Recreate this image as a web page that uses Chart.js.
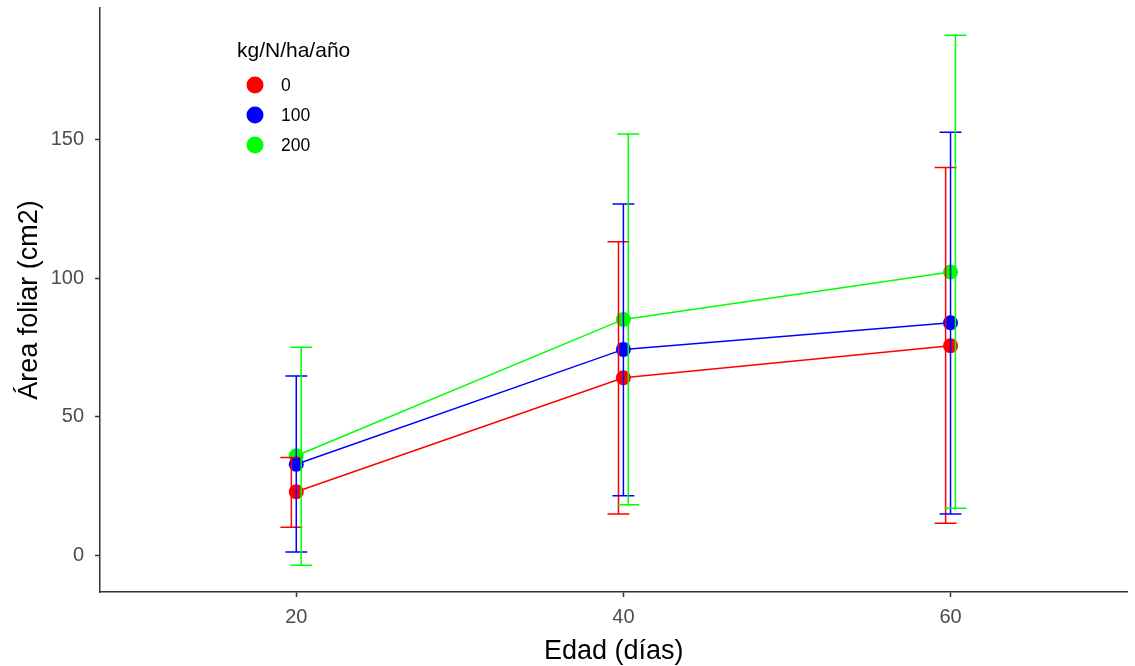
<!DOCTYPE html>
<html lang="es">
<head>
<meta charset="UTF-8">
<title>Área foliar</title>
<script src="https://cdn.jsdelivr.net/npm/chart.js"></script>
<style>
  html, body { margin: 0; padding: 0; background: #fff; }
  #wrap { width: 1135px; height: 666px; }
</style>
</head>
<body>
<div id="wrap"><canvas id="leafChart" width="1135" height="666"></canvas></div>
<script>
    // datos
    const ages = [20, 40, 60];
    const doses = ['0', '100', '200'];
    const colors = ['#ff0000', '#0000ff', '#00ff00'];
    const mean0 = [23.0, 64.1, 75.6];
    const mean100 = [32.9, 74.3, 83.9];
    const mean200 = [36.0, 85.1, 102.2];
    const low0 = [10.2, 15.0, 11.7];
    const high0 = [35.4, 113.1, 139.8];
    const low100 = [1.3, 21.6, 15.0];
    const high100 = [64.7, 126.7, 152.5];
    const low200 = [-3.5, 18.3, 17.1];
    const high200 = [75.1, 151.9, 187.5];
    const dodge = [-0.3, 0, 0.3];
    const yTicks = [0, 50, 100, 150];
    const xTicks = [20, 40, 60];

    const means = [mean0, mean100, mean200];
    const lows = [low0, low100, low200];
    const highs = [high0, high100, high200];

    const font = "'Liberation Sans', Arial, sans-serif";

    const datasets = doses.map((d, i) => ({
        label: d,
        data: ages.map((a, j) => ({ x: a, y: means[i][j] })),
        borderColor: colors[i],
        backgroundColor: colors[i],
        pointBackgroundColor: colors[i],
        pointBorderWidth: 0,
        pointRadius: 7.5,
        pointHoverRadius: 7.5,
        borderWidth: 1.5,
        showLine: true,
        tension: 0,
        fill: false
    }));

    // barras de error dibujadas con las escalas del gráfico
    const errorBars = {
        id: 'errorBars',
        afterDatasetsDraw(chart) {
            const ctx = chart.ctx;
            const xs = chart.scales.x, ys = chart.scales.y;
            ctx.save();
            ctx.lineWidth = 1.5;
            doses.forEach((d, i) => {
                ctx.strokeStyle = colors[i];
                ages.forEach((a, j) => {
                    const x = xs.getPixelForValue(a + dodge[i]);
                    const x0 = xs.getPixelForValue(a + dodge[i] - 0.67);
                    const x1 = xs.getPixelForValue(a + dodge[i] + 0.67);
                    const yl = ys.getPixelForValue(lows[i][j]);
                    const yh = ys.getPixelForValue(highs[i][j]);
                    ctx.beginPath();
                    ctx.moveTo(x, yl); ctx.lineTo(x, yh);
                    ctx.moveTo(x0, yl); ctx.lineTo(x1, yl);
                    ctx.moveTo(x0, yh); ctx.lineTo(x1, yh);
                    ctx.stroke();
                });
            });
            ctx.restore();
        }
    };

    // leyenda dentro del área del gráfico
    const insideLegend = {
        id: 'insideLegend',
        afterDraw(chart) {
            const ctx = chart.ctx;
            ctx.save();
            ctx.fillStyle = '#000';
            ctx.textBaseline = 'middle';
            ctx.textAlign = 'left';
            ctx.font = '21px ' + font;
            ctx.fillText('kg/N/ha/año', 237, 51);
            ctx.font = '17.5px ' + font;
            doses.forEach((d, i) => {
                const y = 85 + i * 30;
                ctx.fillStyle = colors[i];
                ctx.beginPath();
                ctx.arc(255, y, 8.5, 0, Math.PI * 2);
                ctx.fill();
                ctx.fillStyle = '#000';
                ctx.fillText(d, 281, y + 1);
            });
            ctx.restore();
        }
    };

    new Chart(document.getElementById('leafChart'), {
        type: 'scatter',
        data: { datasets: datasets },
        plugins: [errorBars, insideLegend],
        options: {
            responsive: false,
            animation: false,
            events: [],
            layout: { padding: { top: 8, right: 0, left: 0, bottom: 0 } },
            plugins: {
                legend: { display: false },
                tooltip: { enabled: false }
            },
            scales: {
                x: {
                    type: 'linear',
                    min: 8.0,
                    max: 70.82,
                    afterBuildTicks: (s) => { s.ticks = xTicks.map(v => ({ value: v })); },
                    afterFit: (s) => { s.height = 74; s.paddingLeft = 0; s.paddingRight = 0; },
                    grid: { display: true, drawOnChartArea: false, drawTicks: true, tickLength: 5, tickColor: '#333', tickWidth: 1.5 },
                    border: { display: true, color: '#333', width: 1.5 },
                    ticks: { color: '#4d4d4d', font: { family: font, size: 20 }, padding: 8 },
                    title: { display: true, text: 'Edad (días)', color: '#000', font: { family: font, size: 27 }, padding: { top: 0, bottom: -2 } }
                },
                y: {
                    type: 'linear',
                    min: -13.1,
                    max: 197.3,
                    afterBuildTicks: (s) => { s.ticks = yTicks.map(v => ({ value: v })); },
                    afterFit: (s) => { s.width = 100; s.paddingTop = 0; s.paddingBottom = 0; },
                    grid: { display: true, drawOnChartArea: false, drawTicks: true, tickLength: 5, tickColor: '#333', tickWidth: 1.5 },
                    border: { display: true, color: '#333', width: 1.5 },
                    ticks: { color: '#4d4d4d', font: { family: font, size: 20 }, padding: 11 },
                    title: { display: true, text: 'Área foliar (cm2)', color: '#000', font: { family: font, size: 27 }, padding: { top: 13, bottom: 0 } }
                }
            }
        }
    });
</script>
</body>
</html>
